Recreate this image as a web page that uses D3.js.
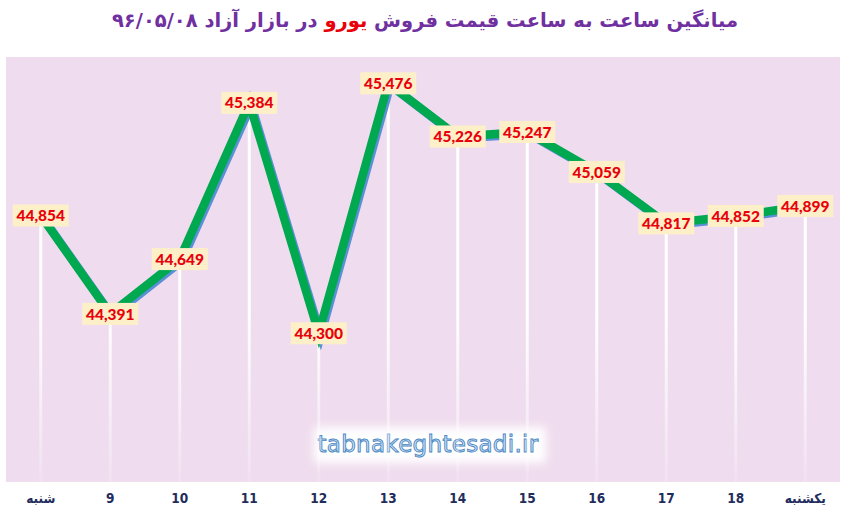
<!DOCTYPE html>
<html>
<head>
<meta charset="utf-8">
<script src="https://cdn.jsdelivr.net/npm/d3@7"></script>
<style>
  body { margin: 0; background: #fff; }
  svg { display: block; }
</style>
</head>
<body>
<div id="chart"></div>
<script>
const width = 850;
const height = 516;

const categories = ['شنبه', '9', '10', '11', '12', '13', '14', '15', '16', '17', '18', 'یکشنبه'];
const prices = [44854, 44391, 44649, 45384, 44300, 45476, 45226, 45247, 45059, 44817, 44852, 44899];
const yDomain = [43600, 45600];

const plot = {left: 6, right: 840, top: 57, bottom: 482};

const data = categories.map((c, i) => ({c, v: prices[i]}));

const svg = d3.select('#chart')
  .append('svg')
    .attr('width', width)
    .attr('height', height);

const defs = svg.append('defs');
const grad = defs.append('linearGradient')
  .attr('id', 'drop')
  .attr('gradientUnits', 'userSpaceOnUse')
  .attr('x1', 0).attr('x2', 0)
  .attr('y1', plot.top).attr('y2', plot.bottom);
grad.append('stop').attr('offset', '0.6').attr('stop-color', '#fff').attr('stop-opacity', 1);
grad.append('stop').attr('offset', '1').attr('stop-color', '#fff').attr('stop-opacity', 0.15);

const glow = defs.append('filter').attr('id', 'glow')
  .attr('x', '-20%').attr('y', '-40%').attr('width', '140%').attr('height', '180%');
glow.append('feGaussianBlur').attr('stdDeviation', 5);

const x = d3.scaleBand()
  .domain(categories)
  .range([plot.left, plot.right]);

const y = d3.scaleLinear()
  .domain(yDomain)
  .range([plot.bottom, plot.top]);

const cx = d => x(d.c) + x.bandwidth() / 2;
const cy = d => y(d.v);

// plot background
svg.append('rect')
  .attr('x', plot.left)
  .attr('y', plot.top)
  .attr('width', plot.right - plot.left)
  .attr('height', plot.bottom - plot.top)
  .attr('fill', '#efdcee');

// watermark
const wm = svg.append('g');
wm.append('rect')
  .attr('x', 314).attr('y', 427)
  .attr('width', 232).attr('height', 36)
  .attr('fill', '#fff')
  .attr('filter', 'url(#glow)');
wm.append('text')
  .attr('x', 428).attr('y', 452)
  .attr('text-anchor', 'middle')
  .attr('font-family', 'Verdana, "DejaVu Sans", sans-serif')
  .attr('font-size', 23)
  .attr('letter-spacing', 0.3)
  .attr('fill', '#d3e5f6')
  .attr('stroke', '#4a86c2')
  .attr('stroke-width', 0.9)
  .text('tabnakeghtesadi.ir');

// drop lines
svg.selectAll('.drop-line')
  .data(data)
  .enter()
  .append('line')
    .attr('class', 'drop-line')
    .attr('x1', cx).attr('x2', cx)
    .attr('y1', cy).attr('y2', plot.bottom)
    .attr('stroke', 'url(#drop)')
    .attr('stroke-width', 3);

const line = d3.line().x(cx).y(cy);

// shadow then main line
svg.append('path')
  .datum(data)
  .attr('d', line)
  .attr('transform', 'translate(2,2)')
  .attr('fill', 'none')
  .attr('stroke', '#5b8fd6')
  .attr('stroke-width', 8.5);

svg.append('path')
  .datum(data)
  .attr('d', line)
  .attr('fill', 'none')
  .attr('stroke', '#00a84f')
  .attr('stroke-width', 8.5);

// data labels
const fmt = d3.format(',');
const labels = svg.selectAll('.label')
  .data(data)
  .enter()
  .append('g')
    .attr('class', 'label')
    .attr('transform', d => `translate(${cx(d)},${cy(d)})`);

labels.append('rect')
  .attr('x', -28).attr('y', -11)
  .attr('width', 56).attr('height', 22)
  .attr('fill', '#fdf0c8');

labels.append('text')
  .attr('text-anchor', 'middle')
  .attr('dy', '0.36em')
  .attr('font-family', 'Lato, "Open Sans", sans-serif')
  .attr('font-weight', 900)
  .attr('font-size', 15.5)
  .attr('fill', '#e8000b')
  .text(d => fmt(d.v));

// x axis labels
const xAxis = d3.axisBottom(x).tickSize(0).tickPadding(11);
const gx = svg.append('g')
  .attr('transform', `translate(0,${plot.bottom})`)
  .call(xAxis);
gx.select('.domain').remove();
gx.selectAll('text')
  .attr('font-family', '"DejaVu Sans Condensed", "DejaVu Sans", sans-serif')
  .attr('font-weight', 'bold')
  .attr('font-size', 13.5)
  .attr('fill', '#1f2d5c');

// title
const title = svg.append('text')
  .attr('x', 425)
  .attr('y', 27)
  .attr('text-anchor', 'middle')
  .attr('direction', 'rtl')
  .attr('font-family', '"DejaVu Sans", sans-serif')
  .attr('font-weight', 'bold')
  .attr('font-size', 19.5)
  .attr('fill', '#7030a0');
title.append('tspan').text('میانگین ساعت به ساعت قیمت فروش ');
title.append('tspan').attr('fill', '#e8000b').text('یورو');
title.append('tspan').text(' در بازار آزاد ۹۶/۰۵/۰۸');
</script>
</body>
</html>
